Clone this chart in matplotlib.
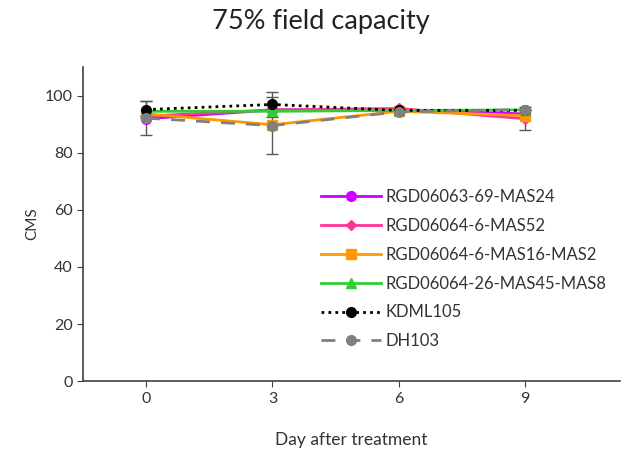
import numpy as np
import matplotlib
matplotlib.use('Agg')
import matplotlib.pyplot as plt

plt.rcParams['font.family'] = ['Lato', 'DejaVu Sans']

# data
days = ['0', '3', '6', '9']
mas24 = [91.9, 95.0, 95.0, 93.6]
mas52 = [92.8, 95.0, 95.5, 91.9]
mas16 = [93.6, 89.8, 94.5, 93.0]
mas45 = [94.5, 94.5, 94.8, 95.0]
kdml105 = [95.1, 96.9, 94.8, 94.8]
dh103 = [92.1, 89.5, 94.3, 95.1]

# error bars (only the visible ones)
err_mas52 = [0, 0, 0, 4.0]
err_kdml105 = [3.0, 4.5, 0, 0]
err_dh103 = [6.0, 10.0, 0, 0]

names = ['RGD06063-69-MAS24', 'RGD06064-6-MAS52', 'RGD06064-6-MAS16-MAS2',
         'RGD06064-26-MAS45-MAS8', 'KDML105', 'DH103']

x = np.arange(len(days))
fig = plt.figure(figsize=(6.24, 4.5), dpi=100)
ax = fig.add_axes([0.133, 0.153, 0.86, 0.698])

ecol = '#595959'
for vals, err in [(mas52, err_mas52), (kdml105, err_kdml105), (dh103, err_dh103)]:
    ax.errorbar(x, vals, yerr=err, fmt='none', ecolor=ecol, elinewidth=1, capsize=4)

ax.plot(x, mas24, color='#CC00FF', marker='o', ms=7, lw=2, label=names[0])
ax.plot(x, mas52, color='#FF3399', marker='D', ms=5, lw=2, label=names[1])
ax.plot(x, mas16, color='#FF9900', marker='s', ms=7, lw=2, label=names[2])
ax.plot(x, mas45, color='#33CC33', marker='^', ms=7, lw=2, label=names[3])
ax.plot(x, kdml105, color='black', marker='o', ms=7, lw=2,
        ls=(0, (1, 1.5)), label=names[4])
ax.plot(x, dh103, color='#808080', marker='o', ms=7, lw=2,
        ls=(0, (5, 4)), label=names[5])

ax.set_xlim(-0.5, 3.75)
ax.set_ylim(0, 110)
ax.set_xticks(x)
ax.set_xticklabels(days)
ax.set_yticks(np.arange(0, 101, 20))
for s in ['top', 'right']:
    ax.spines[s].set_visible(False)
for s in ['left', 'bottom']:
    ax.spines[s].set_color('#404040')
    ax.spines[s].set_linewidth(1.2)
ax.tick_params(colors='#404040', labelcolor='#333333', labelsize=11.5, length=4)
ax.set_xlabel('Day after treatment', fontsize=12.5, color='#333333', labelpad=19)
ax.set_ylabel('CMS', fontsize=11, color='#333333')
fig.suptitle('75% field capacity', fontsize=19.5, color='#222222', x=0.515, y=0.98)

leg = ax.legend(loc='upper left', bbox_to_anchor=(0.49, 0.613), bbox_transform=fig.transFigure,
                frameon=False, fontsize=12, handlelength=3.6, labelspacing=0.77,
                handletextpad=0.3, labelcolor='#333333')

plt.savefig('out.png', dpi=100)
